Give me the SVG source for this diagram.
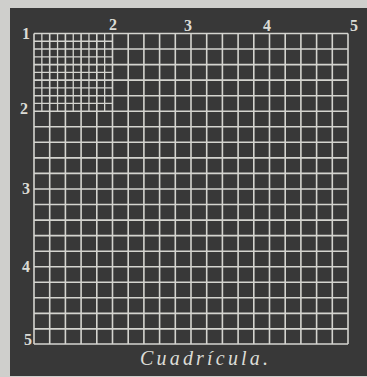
<svg xmlns="http://www.w3.org/2000/svg" width="367" height="377" viewBox="0 0 367 377">
<style>
.coarse{stroke:#d4d4cf;stroke-width:1.6;fill:none}
.fine{stroke:#d4d4cf;stroke-width:1.3;fill:none}
.num{font-family:"Liberation Serif","DejaVu Serif",serif;font-weight:bold;font-size:16px;fill:#dcdcd6;text-anchor:middle}
.title{font-family:"Liberation Serif","DejaVu Serif",serif;font-style:italic;font-size:20px;fill:#dcdcd6}
</style>
<rect x="0" y="0" width="367" height="377" fill="#cfcfcc"/>
<rect x="10" y="8" width="357" height="368" fill="#383838"/>
<g id="grid">
<path class="coarse" d="M34 33.5V344M49.7 33.5V344M65.4 33.5V344M81.1 33.5V344M96.8 33.5V344M112.5 33.5V344M128.2 33.5V344M143.9 33.5V344M159.6 33.5V344M175.3 33.5V344M191 33.5V344M206.7 33.5V344M222.4 33.5V344M238.1 33.5V344M253.8 33.5V344M269.5 33.5V344M285.2 33.5V344M300.9 33.5V344M316.6 33.5V344M332.3 33.5V344M348 33.5V344"/>
<path class="coarse" d="M34 33.5H348M34 49H348M34 64.6H348M34 80.1H348M34 95.7H348M34 111.2H348M34 126.8H348M34 142.3H348M34 157.9H348M34 173.4H348M34 189H348M34 204.5H348M34 220.1H348M34 235.6H348M34 251.2H348M34 266.7H348M34 282.3H348M34 297.8H348M34 313.4H348M34 328.9H348M34 344H348"/>
<path class="fine" d="M41.85 33.5V111.2M57.55 33.5V111.2M73.25 33.5V111.2M88.95 33.5V111.2M104.65 33.5V111.2M34 41.25H112.5M34 56.8H112.5M34 72.35H112.5M34 87.9H112.5M34 103.45H112.5"/>
</g>
<g id="labels">
<text class="num" x="26" y="39">1</text>
<text class="num" x="113" y="30">2</text>
<text class="num" x="188" y="30.5">3</text>
<text class="num" x="267" y="30.5">4</text>
<text class="num" x="354" y="31">5</text>
<text class="num" x="24" y="113.5">2</text>
<text class="num" x="26" y="193.5">3</text>
<text class="num" x="26" y="271.5">4</text>
<text class="num" x="28" y="344.5">5</text>
</g>
<text class="title" x="140" y="365" textLength="128" lengthAdjust="spacing">Cuadrícula.</text>
</svg>
